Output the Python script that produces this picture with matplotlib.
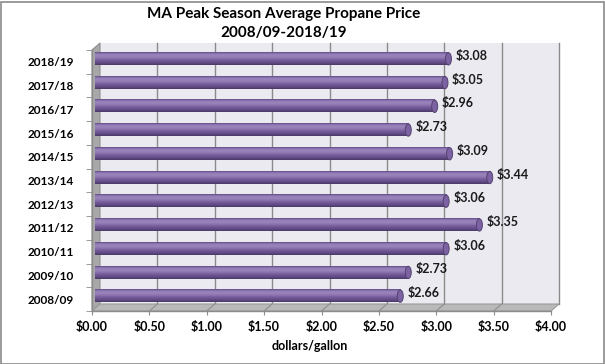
import numpy as np
import matplotlib.pyplot as plt
from matplotlib.patches import Polygon, Ellipse, Rectangle
from matplotlib.colors import LinearSegmentedColormap

plt.rcParams['font.family'] = ['Lato', 'DejaVu Sans']

# data
seasons = ['2008/09', '2009/10', '2010/11', '2011/12', '2012/13', '2013/14',
           '2014/15', '2015/16', '2016/17', '2017/18', '2018/19']
prices = [2.66, 2.73, 3.06, 3.35, 3.06, 3.44, 3.09, 2.73, 2.96, 3.05, 3.08]
xticks = [0.0, 0.5, 1.0, 1.5, 2.0, 2.5, 3.0, 3.5, 4.0]

W, H = 605, 364
fig = plt.figure(figsize=(W / 100, H / 100), dpi=100)
fig.patch.set_facecolor('white')

# front plane of the plot area, in pixels
left, right, top, bottom = 92, 551, 50, 311
ax = fig.add_axes([left / W, 1 - bottom / H, (right - left) / W, (bottom - top) / H])
ax.set_xlim(0, 4)
ax.set_ylim(-0.5, len(seasons) - 0.5)
ax.patch.set_alpha(0)
for s in ax.spines.values():
    s.set_visible(False)

# pixel -> data helpers
px_x = 4 / (right - left)
px_y = len(seasons) / (bottom - top)
DX, DY = 8 * px_x, 7 * px_y
y0, y1 = -0.5, len(seasons) - 0.5

# back wall
ax.add_patch(Rectangle((DX, y0 + DY), 4, y1 - y0, facecolor='#ECEAF1',
                       edgecolor='none', zorder=0, clip_on=False))
for x in xticks[1:]:
    ax.plot([x + DX, x + DX], [y0 + DY, y1 + DY], color='#8A8A8A', lw=1,
            zorder=1, clip_on=False)

# side wall
ax.add_patch(Polygon([(0, y0), (0, y1), (DX, y1 + DY), (DX, y0 + DY)],
                     closed=True, facecolor='#A8A8A8', edgecolor='#8F8F8F',
                     lw=0.8, zorder=1, clip_on=False))
# floor
ax.add_patch(Polygon([(0, y0), (4, y0), (4 + DX, y0 + DY), (DX, y0 + DY)],
                     closed=True, facecolor='#B9B9B9', edgecolor='#9A9A9A',
                     lw=0.8, zorder=1, clip_on=False))
for x in xticks[1:-1]:
    ax.plot([x, x + DX], [y0, y0 + DY], color='#8E8E8E', lw=0.8,
            zorder=1.5, clip_on=False)

# front axis lines
ax.plot([0, 4], [y0, y0], color='#8C8C8C', lw=1, zorder=2, clip_on=False)
ax.plot([0, 0], [y0, y1], color='#8C8C8C', lw=1, zorder=2, clip_on=False)

# bars with cylinder-like shading
cmap = LinearSegmentedColormap.from_list('cyl', [
    (0.0, '#5E4A82'), (0.12, '#8F79B4'), (0.3, '#9A85BB'), (0.5, '#8A70AE'),
    (0.62, '#765C9B'), (0.85, '#5F4A82'), (1.0, '#4A3968')])
grad = np.linspace(0, 1, 64).reshape(-1, 1)
bh = 0.52
bx, by = 3 * px_x, 3 * px_y
cap_w = 6 * px_x
for i, v in enumerate(prices):
    yc = i + by
    ax.imshow(grad, cmap=cmap, aspect='auto', interpolation='bilinear',
              extent=(bx, v + bx, yc - bh / 2, yc + bh / 2), zorder=3,
              clip_on=False)
    ax.add_patch(Ellipse((v + bx, yc), cap_w, bh, facecolor='#7C62A2',
                         edgecolor='#55426F', lw=0.7, zorder=4, clip_on=False))
    ax.text(v + 10 * px_x, i + 6 * px_y, f'${v:.2f}', ha='left', va='center',
            fontsize=9, fontweight='bold', color='#1A1A1A', zorder=5)

ax.set_xlim(0, 4)
ax.set_ylim(y0, y1)

# ticks
ax.set_yticks(range(len(seasons)))
ax.set_yticklabels(seasons, fontsize=8.5, fontweight='bold')
ax.set_yticks(np.arange(len(seasons) + 1) - 0.5, minor=True)
ax.tick_params(axis='y', which='major', length=0, pad=13)
ax.tick_params(axis='y', which='minor', length=4, color='#8C8C8C')
ax.set_xticks(xticks)
ax.set_xticklabels([f'${x:.2f}' for x in xticks], fontsize=9, fontweight='bold')
ax.tick_params(axis='x', length=3, color='#8C8C8C', pad=4)
ax.set_xlabel('dollars/gallon', fontsize=9, fontweight='bold', labelpad=2)
ax.xaxis.set_label_coords((310 - left) / (right - left), -(340 - bottom) / (bottom - top))

fig.text(284 / W, 1 - 14 / H, 'MA Peak Season Average Propane Price',
         ha='center', va='center', fontsize=11, fontweight='bold')
fig.text(284 / W, 1 - 33 / H, '2008/09-2018/19',
         ha='center', va='center', fontsize=11, fontweight='bold')

# outer border
fig.add_artist(Rectangle((0.5 / W, 0.5 / H), 1 - 2 / W, 1 - 2 / H,
                         transform=fig.transFigure, fill=False,
                         edgecolor='#8A8A8A', lw=1.2))

fig.savefig('out.png', dpi=100)
